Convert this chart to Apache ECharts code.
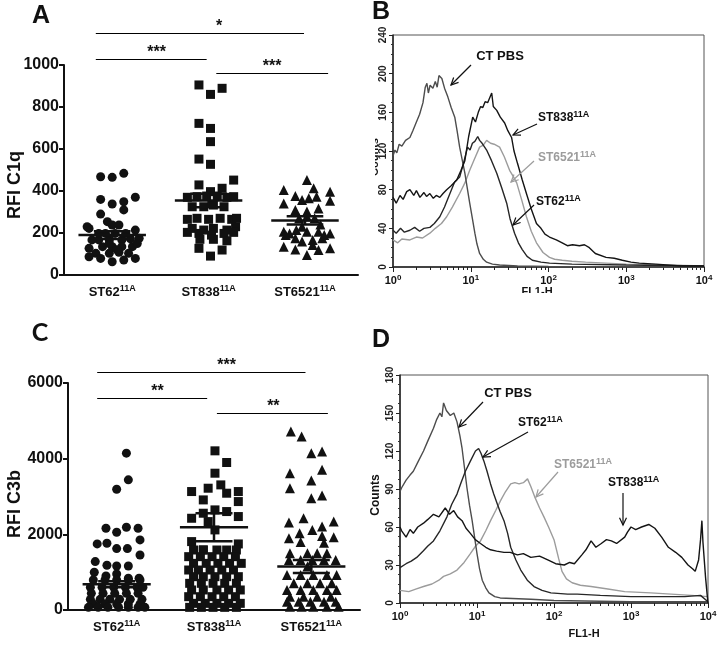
<!DOCTYPE html>
<html><head><meta charset="utf-8">
<script src="https://cdn.jsdelivr.net/npm/echarts@6/dist/echarts.min.js"></script>
<style>html,body{margin:0;padding:0;background:#fff}#c{width:722px;height:652px}</style>
</head><body><div id="c"></div>
<script>
// ---------- categories ----------
const groups = ['ST62', 'ST838', 'ST6521'];
const groupSup = '11A';

// ---------- Panel A : RFI C1q  ([jitter offset in category units, value]) ----------
const a_st62 = [[-0.12,468],[0,465],[0.12,484],[-0.12,360],[0,338],[0.12,349],[0.24,370],[0.12,310],
 [-0.12,290],[-0.05,254],[0,238],[0.07,238],[-0.24,222],[0.24,214],[-0.14,198],[-0.07,198],[0.03,198],[0.14,198],
 [-0.21,167],[0.28,175],[-0.14,167],[-0.03,167],[0.1,167],[0.19,172],[-0.24,127],[-0.1,135],[0,135],[0.1,135],[0.21,135],
 [-0.17,103],[-0.03,103],[0.07,108],[0.17,103],[-0.24,87],[-0.12,79],[0,63],[0.12,71],[0.24,79],
 [-0.26,230],[-0.03,150],[0.26,150],[0.05,120]];
const a_st838 = [[-0.1,905],[0.14,889],[0.02,860],[-0.1,722],[0.02,698],[0.02,635],[-0.1,552],[0.02,527],
 [-0.1,429],[0.14,413],[0.26,452],[0.02,397],[-0.22,370],[-0.12,373],[-0.02,376],[0.09,376],[0.19,370],[0.26,373],
 [-0.17,325],[-0.05,325],[0.05,333],[0.16,325],[-0.22,265],[-0.12,270],[0,265],[0.12,270],[0.24,265],[0.29,270],
 [-0.17,222],[-0.05,214],[0.05,222],[0.19,214],[0.28,230],[-0.22,203],[-0.1,198],[0.03,190],[0.16,198],[0.26,203],
 [-0.09,170],[0.05,170],[0.19,163],[-0.1,127],[0.02,90],[0.14,119]];
const a_st6521 = [[0.02,452],[-0.22,405],[0.09,413],[0.26,397],[-0.1,376],[-0.03,357],[0.04,365],[0.12,373],
 [-0.22,341],[0.26,354],[-0.1,310],[0.02,302],[0.14,317],[0.02,278],[-0.06,270],[0.1,270],
 [-0.22,206],[-0.16,198],[-0.09,214],[0.02,206],[0.14,206],[0.26,198],[-0.1,175],[-0.03,159],[0.08,167],[0.18,175],
 [-0.22,135],[-0.1,122],[0.02,95],[0.14,119],[0.26,127],[0.08,143],[-0.2,190],[0.2,190],[-0.03,230],[0.16,240]];
const a_mean = [190, 355, 260];
const a_sem = [18, 32, 20];

// ---------- Panel C : RFI C3b ----------
const c_st62 = [[0.1,4145],[0.12,3440],[0,3193],[-0.11,2160],[0.1,2187],[0.22,2160],[0,2055],
 [-0.2,1746],[-0.1,1764],[0,1623],[0.11,1623],[0.24,1852],[0.24,1455],
 [-0.22,1279],[-0.1,1182],[0,1164],[0.12,1164],[-0.23,997],[-0.11,900],[0,953],[0.12,838],[0.23,838],
 [-0.24,793],[-0.12,793],[0,793],[0.12,793],[0.24,793],
 [-0.27,600],[-0.15,600],[-0.03,600],[0.09,600],[0.21,600],[0.27,600],
 [-0.26,440],[-0.14,440],[-0.02,440],[0.1,440],[0.22,440],
 [-0.27,282],[-0.17,282],[-0.07,282],[0.03,282],[0.14,282],[0.26,282],
 [-0.24,159],[-0.12,159],[0,159],[0.12,159],[0.24,159],
 [-0.29,70],[-0.19,70],[-0.09,70],[0.02,70],[0.12,70],[0.22,70],[0.29,70]];
const c_st838 = [[0.01,4207],[0.13,3898],[0.01,3616],[0.07,3307],[-0.23,3131],[-0.11,2910],[-0.06,3219],[0.13,3087],
 [0.25,3131],[0.25,2866],[-0.11,2558],[0.01,2646],[0.13,2602],[-0.23,2425],[0.25,2470],[-0.06,2337],[0.01,2117],
 [-0.23,1808],[0.25,1746],[-0.11,1587],
 [-0.21,1586],[-0.11,1586],[0.03,1586],[0.13,1586],[0.23,1586],
 [-0.26,1410],[-0.14,1410],[-0.02,1410],[0.1,1410],[0.22,1410],
 [-0.21,1233],[-0.08,1233],[0.04,1233],[0.16,1233],[0.28,1233],
 [-0.26,1057],[-0.16,1057],[-0.04,1057],[0.08,1057],[0.2,1057],
 [-0.21,881],[-0.11,881],[0.01,881],[0.13,881],[0.25,881],
 [-0.25,705],[-0.13,705],[-0.01,705],[0.11,705],[0.23,705],
 [-0.23,529],[-0.11,529],[0.03,529],[0.15,529],[0.27,529],
 [-0.26,352],[-0.14,352],[-0.02,352],[0.1,352],[0.22,352],
 [-0.21,176],[-0.09,176],[0.03,176],[0.15,176],[0.27,176],
 [-0.25,70],[-0.13,70],[-0.01,70],[0.11,70],[0.23,70]];
const c_st6521 = [[-0.21,4719],[-0.1,4586],[0,4145],[0.11,4190],[-0.22,3616],[0.11,3704],[0,3422],
 [-0.22,3219],[0,2954],[0.11,3025],
 [-0.23,2311],[-0.08,2425],[0.11,2205],[0.23,2337],
 [-0.23,1896],[-0.12,2029],[0.01,2117],[0.11,1958],[0.23,1923],
 [-0.11,1800],[0.13,1780],
 [-0.22,1500],[-0.04,1500],[0.06,1500],[0.16,1500],
 [-0.23,1320],[-0.11,1320],[0.01,1320],[0.13,1320],[0.25,1320],[-0.04,1150],
 [-0.25,925],[-0.11,925],[0.02,925],[0.16,925],[0.26,925],
 [-0.18,705],[-0.04,705],[0.09,705],[0.21,705],
 [-0.25,529],[-0.11,529],[0.02,529],[0.16,529],[0.26,529],
 [-0.22,352],[-0.08,352],[0.06,352],[0.2,352],
 [-0.25,220],[-0.13,220],[-0.01,220],[0.13,220],[0.25,220],
 [-0.22,88],[-0.1,88],[0.02,88],[0.16,88],[0.28,88]];
const c_mean = [680, 2190, 1150];
const c_sem = [80, 370, 170];

// ---------- Panel B : C1q flow histograms ([FL1-H, counts]) ----------
const b_ctpbs = [[1,115],[1.06,121],[1.12,118],[1.2,127],[1.3,125],[1.45,131],[1.65,134],[1.8,141],[2.0,150],[2.2,158],[2.43,170],
 [2.6,186],[2.73,190],[2.85,180],[3.0,188],[3.26,185],[3.5,192],[3.7,186],[3.9,198],[4.25,195],[4.6,185],[5.07,176],
 [5.6,165],[6.23,155],[6.7,140],[7.2,124],[7.8,110],[8.4,97],[9.0,82],[9.7,66],[10.5,50],[11.3,35],[12,24],[13,14],
 [14.5,8],[16,5],[19,3],[23.5,2],[40,1],[100,0.5],[1000,0],[10000,0]];
const b_st838 = [[1,72],[1.1,66],[1.23,74],[1.35,70],[1.5,78],[1.65,80],[1.85,74],[2.0,79],[2.22,72],[2.5,77],[2.7,73],
 [2.98,76],[3.3,71],[3.6,74],[4.0,72],[4.4,76],[4.9,80],[5.6,84],[6.6,90],[7.5,100],[8.4,110],[9.4,135],[10.6,155],
 [11.5,150],[12.5,160],[13.4,166],[14.3,165],[15.3,171],[16.5,170],[17.5,168],[18.6,180],[19.5,166],[21.6,162],
 [24,155],[27.3,149],[30,141],[33.5,134],[36,120],[40,107],[46,90],[52,76],[60,60],[70,45],[80,40],[90,34],[103,31],
 [126,28],[150,25],[175,22],[204,23],[250,22],[290,23],[335,20],[400,14],[550,10],[700,9],[890,7],[1150,5],[1470,4],
 [2410,3],[5000,1],[10000,1]];
const b_st62 = [[1,38],[1.1,35],[1.25,40],[1.4,36],[1.65,38],[1.9,41],[2.2,37],[2.5,40],[2.98,41],[3.4,45],[4.0,52],
 [4.6,62],[5.4,76],[6.2,88],[7.2,93],[8.1,108],[9.1,124],[9.8,121],[10.5,128],[11.3,130],[12.3,135],[13,131],[14,128],
 [16,121],[18.5,110],[21.6,97],[25,82],[29,66],[32,50],[36.6,35],[41,25],[46,18],[53,11],[62,7],[80,5],[103,4],
 [200,3],[1000,2],[10000,1]];
const b_st6521 = [[1,28],[1.15,25],[1.3,29],[1.65,28],[2.0,31],[2.4,30],[2.98,35],[3.5,40],[4.2,45],[4.9,52],[5.8,62],
 [7.2,76],[8.4,87],[9.7,100],[11.2,112],[13,124],[14.5,126],[16,131],[18,128],[20,127],[23.5,124],[27,114],[31.6,100],
 [35,94],[39,87],[45,70],[52,52],[60,37],[70,25],[85,15],[103,10],[120,8],[150,7],[200,6],[300,5],[1000,3],[3000,2],[10000,1]];

// ---------- Panel D : C3b flow histograms ----------
const d_ctpbs = [[1,88],[1.05,91],[1.2,97],[1.35,101],[1.49,104],[1.7,111],[2.02,120],[2.3,128],[2.72,138],[3.0,145],
 [3.3,150],[3.5,147],[3.68,158],[4.0,152],[4.5,148],[5.0,150],[5.5,143],[6.0,132],[6.4,122],[6.9,106],[7.4,91],
 [8.0,77],[8.65,65],[9.3,52],[10,39],[10.8,27],[11.7,18],[13,12],[14.3,8],[17,5],[20,4],[50,3],[100,2],[1000,1],[10000,1]];
const d_st62 = [[1,28],[1.05,28],[1.2,31],[1.4,33],[1.65,36],[2.0,41],[2.3,45],[2.72,49],[3.3,57],[4.07,68],[4.7,78],
 [5.5,86],[6.2,95],[7.07,104],[8.2,112],[9.55,120],[10.5,122],[11.3,118],[12.3,112],[13.5,104],[15,94],[16.5,86],
 [18.4,78],[20,72],[22.4,65],[25,55],[27.4,44],[32,34],[37,26],[45,18],[55,13],[70,10],[91,8],[150,7],[200,7],
 [400,6],[1000,5],[3000,5],[5000,5],[8000,6],[10000,1]];
const d_st838 = [[1,60],[1.05,57],[1.2,52],[1.35,58],[1.49,55],[1.7,60],[2.02,63],[2.3,66],[2.72,70],[3.2,68],[3.87,75],
 [4.4,70],[4.98,73],[5.6,68],[6.4,65],[7.2,59],[8.2,55],[9.5,50],[11.1,47],[13,44],[15,42],[18,41],[22.4,40],[27,40],
 [33.5,38],[40,39],[50,36],[65,37],[83,34],[105,31],[136,30],[160,32],[184,31],[230,38],[260,42],[303,49],[350,44],
 [411,47],[480,50],[556,49],[650,47],[828,52],[900,56],[1000,60],[1150,58],[1370,60],[1700,62],[2040,59],[2500,52],
 [3060,44],[3800,40],[4570,36],[5500,30],[6300,27],[6820,25],[7550,34],[8000,50],[8330,65],[8600,48],[8920,49],
 [9300,20],[9700,8],[10000,0]];
const d_st6521 = [[1,10],[1.3,9],[1.6,11],[2.02,13],[2.6,15],[3.2,18],[3.68,21],[4.5,23],[5.5,26],[6.8,32],[8.2,39],
 [9.6,45],[11.1,49],[13,57],[15,65],[17.5,73],[20.3,81],[23.5,88],[27.4,94],[31,95],[35.2,94],[40,95],[45.3,98],
 [50,92],[56,84],[65,75],[74,68],[85,60],[100,50],[115,35],[127,25],[145,19],[172,16],[220,14],[303,13],[500,11],
 [828,9],[1800,8],[6100,6],[10000,5]];

// ---------- ticks ----------
const logDecades = [0, 1, 2, 3, 4];

// ---------- styling ----------
const FONT = '"Liberation Sans", Arial, sans-serif';
const INK = '#111';
const C_PBS = '#4d4d4d', C_DARK = '#141414', C_LIGHT = '#9c9c9c';

const richSup = (size, supSize, color) => ({
  b: {fontSize: size, fontWeight: 'bold', fontFamily: FONT, color: color, lineHeight: size + 3},
  s: {fontSize: supSize, fontWeight: 'bold', fontFamily: FONT, color: color, verticalAlign: 'top', lineHeight: supSize}
});

const minorLogVals = [];
for (let d = 0; d < 4; d++) for (let k = 2; k <= 9; k++) minorLogVals.push(d + Math.log10(k));

function scatterX(gridIndex, min, max) {
  return {type: 'value', gridIndex, min, max, position: 'bottom',
    axisLine: {lineStyle: {color: INK, width: 2}},
    axisTick: {show: false}, splitLine: {show: false},
    axisLabel: {customValues: [1, 2, 3], margin: 9,
      formatter: v => `{b|${groups[Math.round(v) - 1]}}{s|${groupSup}}`,
      rich: richSup(13, 9, INK)}};
}
function scatterY(gridIndex, max, interval) {
  return {type: 'value', gridIndex, min: 0, max, interval,
    axisLine: {show: true, lineStyle: {color: INK, width: 2}},
    axisTick: {show: true, length: 5, lineStyle: {color: INK, width: 2}},
    splitLine: {show: false},
    axisLabel: {fontSize: 16, fontWeight: 'bold', fontFamily: FONT, color: INK, margin: 5, formatter: v => String(v)}};
}
function logX(gridIndex) {
  return {type: 'log', logBase: 10, gridIndex, min: 1, max: 10000, position: 'bottom',
    axisLine: {lineStyle: {color: '#222', width: 1.5}},
    axisTick: {show: true, length: 5, lineStyle: {color: '#222'}},
    axisLabel: {show: false}, splitLine: {show: false}};
}
function decadeX(gridIndex) {
  return {type: 'value', gridIndex, min: 0, max: 4, interval: 1, position: 'bottom', offset: 0,
    axisLine: {show: false},
    axisTick: {show: true, customValues: minorLogVals, length: 3, lineStyle: {color: '#222'}},
    splitLine: {show: false},
    axisLabel: {customValues: logDecades, margin: 7, formatter: v => `{b|10}{s|${v}}`, rich: richSup(11, 8, INK)}};
}
function histY(gridIndex, max, interval) {
  return {type: 'value', gridIndex, min: 0, max, interval,
    axisLine: {show: true, lineStyle: {color: '#222', width: 1.5}},
    axisTick: {show: true, length: 4, lineStyle: {color: '#222'}},
    minorTick: {show: true, splitNumber: 4, length: 2, lineStyle: {color: '#333'}},
    splitLine: {show: false},
    axisLabel: {rotate: 90, fontSize: 10, fontWeight: 'bold', fontFamily: FONT, color: '#222', margin: 5}};
}

function scatterSeries(xi, gi, pts, symbol) {
  return {type: 'scatter', xAxisIndex: xi, yAxisIndex: xi, symbol, symbolSize: symbol === 'triangle' ? 10 : 9,
    itemStyle: {color: INK, opacity: 1}, z: 2, silent: true,
    data: pts.map(p => [gi + 1 + p[0], p[1]])};
}
function meanSeries(xi, means, sems) {
  return {type: 'custom', xAxisIndex: xi, yAxisIndex: xi, z: 5, silent: true,
    data: means.map((m, i) => [i + 1, m, sems[i]]),
    renderItem: (params, api) => {
      const x = api.value(0), m = api.value(1), s = api.value(2);
      const L = (a, b) => ({type: 'line', shape: {x1: a[0], y1: a[1], x2: b[0], y2: b[1]},
        style: {stroke: INK, lineWidth: 2.5}});
      return {type: 'group', children: [
        L(api.coord([x - 0.35, m]), api.coord([x + 0.35, m])),
        L(api.coord([x - 0.19, m + s]), api.coord([x + 0.19, m + s])),
        L(api.coord([x - 0.19, m - s]), api.coord([x + 0.19, m - s])),
        L(api.coord([x, m - s]), api.coord([x, m + s]))
      ]};
    }};
}
function histSeries(xi, yi, data, color, w) {
  return {type: 'line', xAxisIndex: xi, yAxisIndex: yi, data, symbol: 'none', silent: true,
    lineStyle: {color, width: w || 1.4}, z: color === C_LIGHT ? 3 : 4};
}

// ---------- annotations (pixel layout) ----------
function txt(x, y, text, opts) {
  return {type: 'text', x, y, z: 100, silent: true,
    style: Object.assign({text, fill: INK, font: `bold 13px ${FONT}`, textAlign: 'center', textVerticalAlign: 'middle'}, opts || {})};
}
function supTxt(x, y, base, color, size, align) {
  return {type: 'text', x, y, z: 100, silent: true,
    style: {text: `{b|${base}}{s|${groupSup}}`, rich: richSup(size || 12, 9, color),
      textAlign: align || 'left', textVerticalAlign: 'middle', fill: color}};
}
function arrow(x1, y1, x2, y2, color) {
  const ang = Math.atan2(y2 - y1, x2 - x1), h = 8, sp = 0.45;
  const p1 = [x2 - h * Math.cos(ang - sp), y2 - h * Math.sin(ang - sp)];
  const p2 = [x2 - h * Math.cos(ang + sp), y2 - h * Math.sin(ang + sp)];
  return [
    {type: 'line', z: 100, silent: true, shape: {x1, y1, x2, y2}, style: {stroke: color, lineWidth: 1.2}},
    {type: 'polyline', z: 100, silent: true, shape: {points: [p1, [x2, y2], p2]}, style: {stroke: color, lineWidth: 1.2, fill: null}}
  ];
}
function rotTxt(x, y, text, font) {
  return {type: 'text', x, y, rotation: Math.PI / 2, z: 100, silent: true,
    style: {text, fill: INK, font, textAlign: 'center', textVerticalAlign: 'middle'}};
}

const graphics = [
  txt(41, 16, 'A', {font: `bold 25px ${FONT}`}),
  txt(381, 12, 'B', {font: `bold 25px ${FONT}`}),
  txt(40, 333, 'C', {font: `bold 25px Lato, ${FONT}`}),
  txt(381, 340, 'D', {font: `bold 25px ${FONT}`}),
  rotTxt(15, 185, 'RFI C1q', `bold 18px ${FONT}`),
  rotTxt(15, 504, 'RFI C3b', `bold 18px ${FONT}`),
  rotTxt(375, 157, 'Counts', `bold 11px ${FONT}`),
  rotTxt(376, 495, 'Counts', `bold 12px ${FONT}`),
  txt(537, 292, 'FL1-H', {font: `bold 11px ${FONT}`}),
  txt(584, 634, 'FL1-H', {font: `bold 11px ${FONT}`}),
  // crop artefacts of the original panel B
  {type: 'rect', z: 101, silent: true, shape: {x: 355, y: 120, width: 20, height: 80}, style: {fill: '#fff'}},
  {type: 'rect', z: 101, silent: true, shape: {x: 515, y: 293, width: 45, height: 10}, style: {fill: '#fff'}},
  // panel B labels
  txt(500, 56, 'CT PBS', {font: `bold 13px ${FONT}`}),
  ...arrow(471, 65, 451, 85, INK),
  supTxt(538, 118, 'ST838', INK),
  ...arrow(537, 124, 513, 135, INK),
  supTxt(538, 158, 'ST6521', C_LIGHT),
  ...arrow(534, 161, 511, 182, C_LIGHT),
  supTxt(536, 202, 'ST62', INK),
  ...arrow(534, 205, 513, 225, INK),
  // panel D labels
  txt(508, 393, 'CT PBS', {font: `bold 13px ${FONT}`}),
  ...arrow(483, 402, 459, 427, INK),
  supTxt(518, 423, 'ST62', INK),
  ...arrow(528, 432, 483, 457, INK),
  supTxt(554, 465, 'ST6521', C_LIGHT),
  ...arrow(558, 472, 536, 497, C_LIGHT),
  supTxt(608, 483, 'ST838', INK),
  ...arrow(623, 493, 623, 525, INK)
];

// significance brackets in data units: [x1, x2, y, starX, stars]
const sigA = [[0.83, 2.99, 1152, 2.11, '*'], [0.83, 1.98, 1029, 1.46, '***'], [2.08, 3.24, 962, 2.66, '***']];
const sigC = [[0.80, 2.94, 6290, 2.13, '***'], [0.80, 1.93, 5603, 1.42, '**'], [2.03, 3.17, 5207, 2.61, '**']];

const chart = echarts.init(document.getElementById('c'), null, {renderer: 'canvas'});
const option = {
  backgroundColor: '#fff',
  animation: false,
  grid: [
    {left: 64, right: 364, top: 65, bottom: 377},
    {left: 68, right: 362, top: 383, bottom: 42},
    {left: 393, right: 18, top: 35, bottom: 385, show: true, borderColor: '#555', borderWidth: 1},
    {left: 400, right: 14, top: 375, bottom: 49, show: true, borderColor: '#555', borderWidth: 1}
  ],
  xAxis: [scatterX(0, 0.5, 3.55), scatterX(1, 0.5, 3.5), logX(2), logX(3), decadeX(2), decadeX(3)],
  yAxis: [scatterY(0, 1000, 200), scatterY(1, 6000, 2000), histY(2, 240, 40), histY(3, 180, 30)],
  series: [
    scatterSeries(0, 0, a_st62, 'circle'), scatterSeries(0, 1, a_st838, 'rect'), scatterSeries(0, 2, a_st6521, 'triangle'),
    meanSeries(0, a_mean, a_sem),
    scatterSeries(1, 0, c_st62, 'circle'), scatterSeries(1, 1, c_st838, 'rect'), scatterSeries(1, 2, c_st6521, 'triangle'),
    meanSeries(1, c_mean, c_sem),
    histSeries(2, 2, b_ctpbs, C_PBS), histSeries(2, 2, b_st6521, C_LIGHT), histSeries(2, 2, b_st62, '#262626'), histSeries(2, 2, b_st838, C_DARK),
    histSeries(3, 3, d_ctpbs, C_PBS), histSeries(3, 3, d_st6521, C_LIGHT), histSeries(3, 3, d_st62, '#262626'), histSeries(3, 3, d_st838, C_DARK)
  ],
  graphic: graphics
};
chart.setOption(option);

function sigGraphics(gridIndex, sig) {
  const out = [];
  sig.forEach(([x1, x2, y, sx, stars]) => {
    const p1 = chart.convertToPixel({gridIndex}, [x1, y]);
    const p2 = chart.convertToPixel({gridIndex}, [x2, y]);
    const ps = chart.convertToPixel({gridIndex}, [sx, y]);
    const yy = Math.round(p1[1]) + 0.5;
    out.push({type: 'line', z: 100, silent: true, shape: {x1: p1[0], y1: yy, x2: p2[0], y2: yy}, style: {stroke: '#000', lineWidth: 1}});
    out.push({type: 'text', z: 100, silent: true, x: ps[0], y: ps[1] - 6,
      style: {text: stars, font: `bold 16px ${FONT}`, fill: INK, textAlign: 'center', textVerticalAlign: 'middle'}});
  });
  return out;
}
chart.setOption({graphic: graphics.concat(sigGraphics(0, sigA), sigGraphics(1, sigC))});
</script></body></html>
